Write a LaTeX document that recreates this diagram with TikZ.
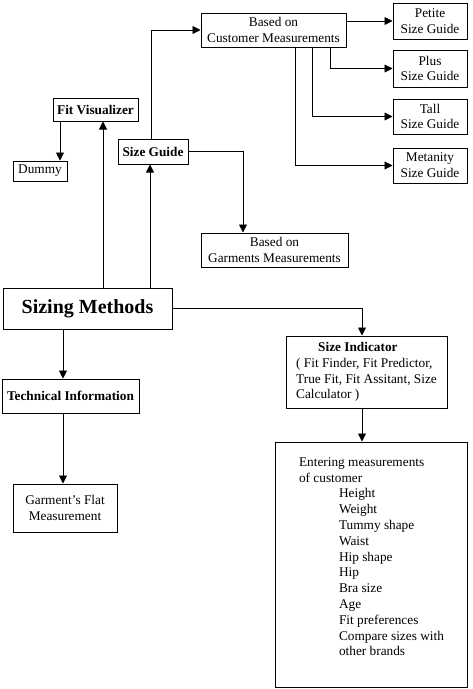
\documentclass[tikz,border=0pt]{standalone}
\usepackage{fontspec}
\setmainfont{Liberation Serif}
\usetikzlibrary{arrows.meta,positioning}

\begin{document}
\begin{tikzpicture}[x=1pt,y=-1pt,>={Triangle[length=8pt,width=8pt]},
 box/.style={draw,line width=1pt,inner sep=2pt,align=center,
 font=\fontsize{13.3}{15.8}\selectfont},
 bbox/.style={box,font=\fontsize{13.3}{15.8}\selectfont\bfseries},
 link/.style={->,line width=0.9pt}]
\useasboundingbox (0,0) rectangle (472,689);
\node[box,minimum width=145pt,minimum height=34pt] (cust) at (273.5,30)
 {Based on\\Customer Measurements};
\node[box,minimum width=74pt,minimum height=36pt] (petite) at (430,21)
 {Petite\\Size Guide};
\node[box,minimum width=74pt,minimum height=37pt] (plus) at (430,68.5)
 {Plus\\Size Guide};
\node[box,minimum width=74pt,minimum height=35pt] (tall) at (430,116.5)
 {Tall\\Size Guide};
\node[box,minimum width=74pt,minimum height=35pt] (meta) at (430,165.5)
 {Metanity\\Size Guide};
\node[bbox,minimum width=85pt,minimum height=23pt] (fitvis) at (95.5,109.5)
 {Fit Visualizer};
\node[box,minimum width=54pt,minimum height=20pt] (dummy) at (40,171)
 {Dummy};
\node[bbox,minimum width=70pt,minimum height=25pt] (sizeguide) at (153,151.5)
 {Size Guide};
\node[box,minimum width=147pt,minimum height=34pt] (garm) at (274.5,250)
 {Based on\\Garments Measurements};
\node[box,font=\fontsize{20}{24}\selectfont\bfseries,
 minimum width=169pt,minimum height=41pt] (sizing) at (87.5,308.5)
 {Sizing Methods};
\node[box,align=left,minimum width=161pt,minimum height=72pt] (indicator)
 at (366.5,372)
 {\hspace*{22pt}\textbf{Size Indicator}\\
 ( Fit Finder, Fit Predictor,\\
 True Fit, Fit Assitant, Size\\
 Calculator )};
\node[bbox,minimum width=137pt,minimum height=34pt] (tech) at (70.5,396)
 {Technical Information};
\node[box,minimum width=104pt,minimum height=48pt] (flat) at (65,508)
 {Garment’s Flat\\Measurement};
\node[box,align=left,minimum width=192pt,minimum height=245pt] (enter)
 at (371.5,564.5)
 {Entering measurements\\
 of customer\\
 \hspace*{40pt}Height\\
 \hspace*{40pt}Weight\\
 \hspace*{40pt}Tummy shape\\
 \hspace*{40pt}Waist\\
 \hspace*{40pt}Hip shape\\
 \hspace*{40pt}Hip\\
 \hspace*{40pt}Bra size\\
 \hspace*{40pt}Age\\
 \hspace*{40pt}Fit preferences\\
 \hspace*{40pt}Compare sizes with\\
 \hspace*{40pt}other brands\\
 \mbox{}};
% upper branches
\draw[link] ([xshift=7.5pt]fitvis.south |- sizing.north)
 -- ([xshift=7.5pt]fitvis.south);
\draw[link] ([xshift=-3pt]sizeguide.south |- sizing.north)
 -- ([xshift=-3pt]sizeguide.south);
\draw[link] ([xshift=20pt]dummy.north |- fitvis.south)
 -- ([xshift=20pt]dummy.north);
\draw[link] ([xshift=-2pt]sizeguide.north) |- (cust.west);
\draw[link] (sizeguide.east) -| ([xshift=-31.5pt]garm.north);
% size guides
\draw[link] (cust.east |- petite.west) -- (petite.west);
\draw[link] ([xshift=56.5pt]cust.south) |- (plus.west);
\draw[link] ([xshift=38.5pt]cust.south) |- (tall.west);
\draw[link] ([xshift=21.5pt]cust.south) |- (meta.west);
% lower branches
\draw[link] (sizing.east) -| ([xshift=-4.5pt]indicator.north);
\draw[link] ([xshift=-7.5pt]tech.north |- sizing.south)
 -- ([xshift=-7.5pt]tech.north);
\draw[link] ([xshift=-2pt]flat.north |- tech.south)
 -- ([xshift=-2pt]flat.north);
\draw[link] ([xshift=-9.5pt]enter.north |- indicator.south)
 -- ([xshift=-9.5pt]enter.north);
\end{tikzpicture}
\end{document}
